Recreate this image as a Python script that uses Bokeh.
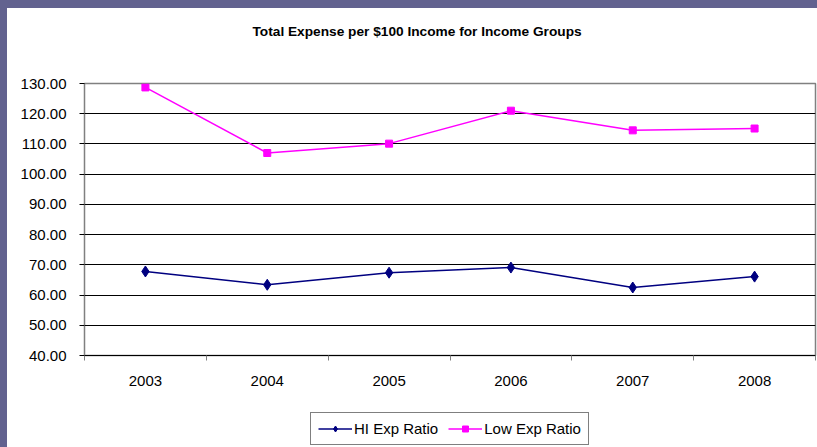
from bokeh.plotting import figure
from bokeh.layouts import column
from bokeh.models import (Range1d, FixedTicker, NumeralTickFormatter, Legend,
                          LegendItem, Title, ColumnDataSource)
from bokeh.embed import file_html
from bokeh.resources import INLINE

years = ["2003", "2004", "2005", "2006", "2007", "2008"]
hi_exp_ratio = [67.8, 63.4, 67.4, 69.1, 62.5, 66.1]
low_exp_ratio = [128.7, 107.0, 110.1, 121.0, 114.5, 115.1]
y_ticks = [40, 50, 60, 70, 80, 90, 100, 110, 120, 130]
title_text = "Total Expense per $100 Income for Income Groups"

FONT = "Liberation Sans"
HI_COLOR = "#000080"
LOW_COLOR = "#FF00FF"
WHITE_BG = {"background-color": "white"}

xpos = [i + 0.5 for i in range(len(years))]
src = ColumnDataSource(dict(x=xpos, hi=hi_exp_ratio, low=low_exp_ratio, year=years))


def blank_strip(height, margin):
    f = figure(width=810, height=height, output_backend="svg", toolbar_location=None,
               x_range=Range1d(0, 1), y_range=Range1d(0, 1),
               x_axis_location=None, y_axis_location=None,
               min_border_left=0, min_border_right=0, min_border_top=0,
               min_border_bottom=0, styles=WHITE_BG)
    f.margin = margin
    f.grid.visible = False
    f.outline_line_color = None
    f.background_fill_color = "white"
    f.border_fill_color = "white"
    return f


# ---- title strip ----
p0 = blank_strip(46, (8, 0, 0, 7))
p0.add_layout(Title(text=title_text, align="left", text_font=FONT,
                    text_font_size="13.7px", text_font_style="bold",
                    text_color="black", offset=168, standoff=27), "above")

# ---- main chart ----
p = figure(width=810, height=351, output_backend="svg", toolbar_location=None,
           x_range=Range1d(0, len(years)), y_range=Range1d(y_ticks[0], y_ticks[-1]),
           min_border_left=77, min_border_right=2, min_border_top=29,
           min_border_bottom=50, styles=WHITE_BG)
p.margin = (0, 0, 0, 7)
p.background_fill_color = "white"
p.border_fill_color = "white"
p.outline_line_color = "#808080"
p.outline_line_width = 1.5

p.yaxis.ticker = FixedTicker(ticks=y_ticks)
p.yaxis.formatter = NumeralTickFormatter(format="0.00")
p.yaxis.axis_line_color = "#808080"
p.yaxis.major_tick_out = 5
p.yaxis.major_tick_in = 0
p.yaxis.major_tick_line_color = "black"
p.yaxis.minor_tick_line_color = None
p.yaxis.major_label_text_font = FONT
p.yaxis.major_label_text_font_size = "15px"
p.yaxis.major_label_text_color = "black"
p.yaxis.major_label_standoff = 13

p.xaxis.ticker = FixedTicker(ticks=xpos, minor_ticks=list(range(len(years) + 1)))
p.xaxis.major_label_overrides = {x: y for x, y in zip(xpos, years)}
p.xaxis.axis_line_color = "black"
p.xaxis.major_tick_out = 0
p.xaxis.major_tick_in = 0
p.xaxis.major_tick_line_color = None
p.xaxis.minor_tick_out = 5
p.xaxis.minor_tick_in = 0
p.xaxis.minor_tick_line_color = "#808080"
p.xaxis.major_label_text_font = FONT
p.xaxis.major_label_text_font_size = "15px"
p.xaxis.major_label_text_color = "black"
p.xaxis.major_label_standoff = 15

p.xgrid.grid_line_color = None
p.ygrid.grid_line_color = "black"
p.ygrid.grid_line_width = 1

p.line("x", "hi", source=src, line_color=HI_COLOR, line_width=1.5)
p.scatter("x", "hi", source=src, marker="diamond", size=11,
          fill_color=HI_COLOR, line_color=HI_COLOR)
p.line("x", "low", source=src, line_color=LOW_COLOR, line_width=1.5)
p.scatter("x", "low", source=src, marker="square", size=7,
          fill_color=LOW_COLOR, line_color=LOW_COLOR)

# ---- legend strip (same series styles; series lie outside this strip's ranges) ----
p2 = blank_strip(42, (0, 0, 0, 7))
l1 = p2.line("x", "hi", source=src, line_color=HI_COLOR, line_width=1.5)
m1 = p2.scatter("x", "hi", source=src, marker="diamond", size=11,
                fill_color=HI_COLOR, line_color=HI_COLOR)
l2 = p2.line("x", "low", source=src, line_color=LOW_COLOR, line_width=1.5)
m2 = p2.scatter("x", "low", source=src, marker="square", size=7,
                fill_color=LOW_COLOR, line_color=LOW_COLOR)

legend = Legend(items=[LegendItem(label="HI Exp Ratio", renderers=[l1, m1], index=0),
                       LegendItem(label="Low Exp Ratio", renderers=[l2, m2], index=0)],
                orientation="horizontal", location=(226, 2),
                border_line_color="black", border_line_width=1,
                label_text_font=FONT, label_text_font_size="15px",
                label_text_color="black", glyph_width=34, glyph_height=15,
                padding=7, spacing=10, margin=0, label_standoff=2,
                background_fill_color="white")
p2.add_layout(legend, "center")

layout = column(p0, p, p2, spacing=0, styles={"background-color": "#62628f"})

html = file_html(layout, INLINE)
open("out.html", "w").write(html)
